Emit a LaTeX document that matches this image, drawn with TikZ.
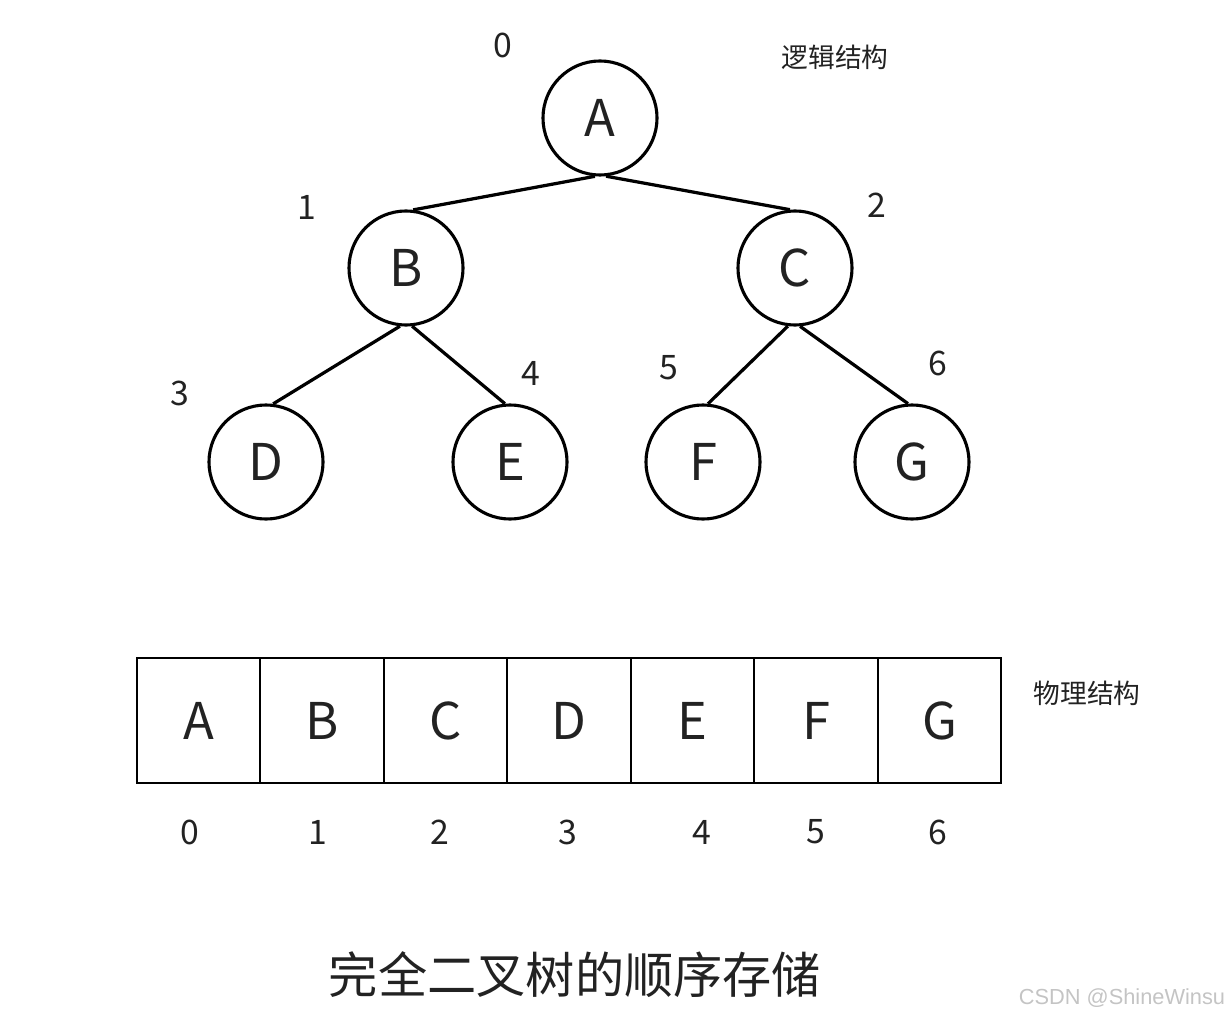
\documentclass[tikz,border=0pt]{standalone}
\usepackage{fontspec}
\setmainfont{Noto Sans CJK SC}
\newfontfamily\wmfont{Liberation Sans}
\usetikzlibrary{positioning}
\definecolor{inkgray}{HTML}{222222}
\definecolor{wmgray}{HTML}{C4C4C4}

\begin{document}
\begin{tikzpicture}[
        x=0.025cm, y=-0.025cm,
        treenode/.style={circle, draw, line width=2.2pt, fill=white, minimum size=2.85cm, inner sep=0pt, text=inkgray, font=\fontsize{36}{40}\selectfont},
        cell/.style={rectangle, draw, line width=1.4pt, minimum width=3.086cm, minimum height=3.125cm, outer sep=0pt, inner sep=0pt, text=inkgray, font=\fontsize{36}{40}\selectfont},
        idx/.style={text=inkgray, font=\fontsize{24}{28}\selectfont},
        caption/.style={text=inkgray, font=\fontsize{19}{22}\selectfont},
        edge/.style={line width=2.3pt}
    ]
    \useasboundingbox (0,0) rectangle (1231,1018);

    % Logical structure
    \node[treenode] (A) at (600,118) {A};
    \node[treenode] (B) at (406,268) {B};
    \node[treenode] (C) at (795,268) {C};
    \node[treenode] (D) at (266,462) {D};
    \node[treenode] (E) at (510,462) {E};
    \node[treenode] (F) at (703,462) {F};
    \node[treenode] (G) at (912,462) {G};
    \node[caption] (logic) at (835,57) {逻辑结构};

    \node[idx] (nA) at (503,45) {0};
    \node[idx] (nB) at (307,207) {1};
    \node[idx] (nC) at (877,205) {2};
    \node[idx] (nD) at (180,393) {3};
    \node[idx] (nE) at (531,373) {4};
    \node[idx] (nF) at (669,368) {5};
    \node[idx] (nG) at (938,363) {6};

    \draw[edge] (A.265) -- (B.83);
    \draw[edge] (A.276) -- (C.95);
    \draw[edge] (B.264) -- (D.83);
    \draw[edge] (B.276) -- (E.95);
    \draw[edge] (C.263) -- (F.85);
    \draw[edge] (C.275) -- (G.94);

    % Physical structure
    \node[cell] (cA) at (198.7,720.5) {A};
    \node[cell, right=0pt of cA] (cB) {B};
    \node[cell, right=0pt of cB] (cC) {C};
    \node[cell, right=0pt of cC] (cD) {D};
    \node[cell, right=0pt of cD] (cE) {E};
    \node[cell, right=0pt of cE] (cF) {F};
    \node[cell, right=0pt of cF] (cG) {G};
    \node[caption] (phys) at (1087,693) {物理结构};

    \node[idx] (iA) at (190,832) {0};
    \node[idx] (iB) at (318,832) {1};
    \node[idx] (iC) at (440,832) {2};
    \node[idx] (iD) at (568,832) {3};
    \node[idx] (iE) at (702,832) {4};
    \node[idx] (iF) at (816,832) {5};
    \node[idx] (iG) at (938,832) {6};

    % Title and mark
    \node[text=inkgray, font=\fontsize{35}{40}\selectfont] (title) at (575,975) {完全二叉树的顺序存储};
    \node[text=wmgray, font=\wmfont\fontsize{15.5}{17}\selectfont] (mark) at (1122,998) {CSDN @ShineWinsu};
\end{tikzpicture}
\end{document}
